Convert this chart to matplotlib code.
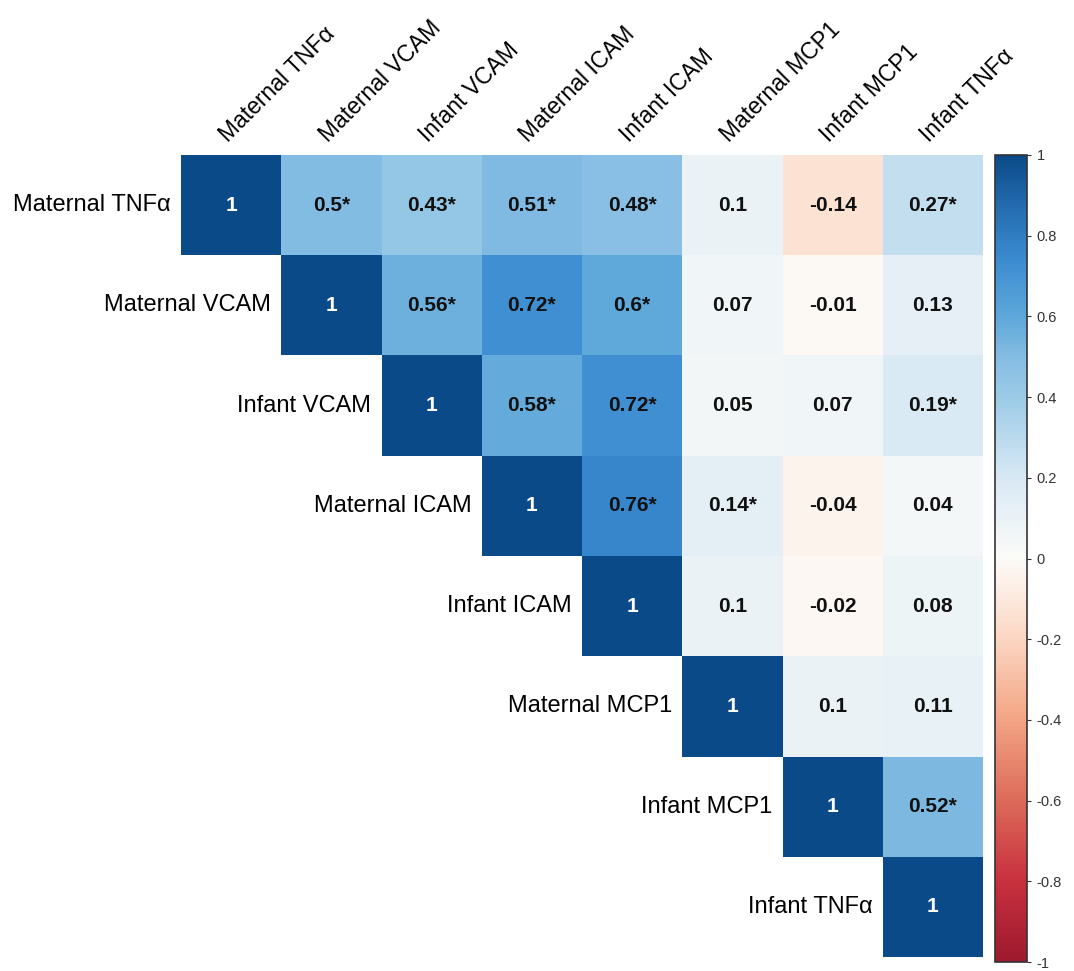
import numpy as np
import matplotlib
matplotlib.use("Agg")
import matplotlib.pyplot as plt
from matplotlib.colors import LinearSegmentedColormap

labels = ["Maternal TNFα", "Maternal VCAM", "Infant VCAM", "Maternal ICAM",
          "Infant ICAM", "Maternal MCP1", "Infant MCP1", "Infant TNFα"]

row0 = [1, 0.5, 0.43, 0.51, 0.48, 0.1, -0.14, 0.27]
row1 = [1, 0.56, 0.72, 0.6, 0.07, -0.01, 0.13]
row2 = [1, 0.58, 0.72, 0.05, 0.07, 0.19]
row3 = [1, 0.76, 0.14, -0.04, 0.04]
row4 = [1, 0.1, -0.02, 0.08]
row5 = [1, 0.1, 0.11]
row6 = [1, 0.52]
row7 = [1]

sig0 = [0, 1, 1, 1, 1, 0, 0, 1]
sig1 = [0, 1, 1, 1, 0, 0, 0]
sig2 = [0, 1, 1, 0, 0, 1]
sig3 = [0, 1, 1, 0, 0]
sig4 = [0, 0, 0, 0]
sig5 = [0, 0, 0]
sig6 = [0, 1]
sig7 = [0]

rows = [row0, row1, row2, row3, row4, row5, row6, row7]
sigs = [sig0, sig1, sig2, sig3, sig4, sig5, sig6, sig7]
cbar_ticks = [1, 0.8, 0.6, 0.4, 0.2, 0, -0.2, -0.4, -0.6, -0.8, -1]

FAM = ["Liberation Sans", "DejaVu Sans"]
LSZ, NSZ = 17, 15

# colour scale
stops = [(-1.0, "#9e1a2e"), (-0.8, "#c8313e"), (-0.6, "#dc6b5a"),
         (-0.4, "#f3a584"), (-0.2, "#fbd6c2"), (0.0, "#fcfbf8"),
         (0.2, "#d8e9f4"), (0.4, "#9ccbe6"), (0.5, "#85bde3"),
         (0.6, "#5ea8da"), (0.75, "#3a8ad0"), (0.9, "#1f66a8"),
         (1.0, "#0b4a88")]
cmap = LinearSegmentedColormap.from_list(
    "ref", [((v + 1) / 2, c) for v, c in stops], N=256)

n = len(labels)
M = np.full((n, n), np.nan)
S = np.zeros((n, n), dtype=bool)
for i in range(n):
    for k, v in enumerate(rows[i]):
        M[i, i + k] = v
        S[i, i + k] = bool(sigs[i][k])

W, H = 1074, 971
fig = plt.figure(figsize=(W / 100, H / 100), dpi=100)
ax = fig.add_axes([181 / W, (H - 957) / H, 802 / W, 802 / H])
mesh = ax.pcolormesh(np.arange(n + 1), np.arange(n + 1), np.ma.masked_invalid(M),
                     cmap=cmap, vmin=-1, vmax=1)
ax.set_xlim(0, n)
ax.set_ylim(n, 0)
ax.axis("off")

for i in range(n):
    for j in range(i, n):
        v = M[i, j]
        txt = ("%g" % v) + ("*" if S[i, j] else "")
        col = "white" if v >= 0.9 else "#111111"
        ax.text(j + 0.5, i + 0.5, txt, ha="center", va="center",
                fontsize=NSZ, fontweight="bold", color=col, family=FAM)
    ax.text(i - 0.1, i + 0.5, labels[i], ha="right", va="center",
            fontsize=LSZ, color="black", family=FAM)
    ax.text(i + 0.5, -0.08, labels[i], ha="left", va="bottom", rotation=45,
            rotation_mode="anchor", fontsize=LSZ - 0.5, color="black", family=FAM,
            clip_on=False)

cax = fig.add_axes([995 / W, (H - 962) / H, 32 / W, 807 / H])
cb = fig.colorbar(mesh, cax=cax, ticks=cbar_ticks)
cb.outline.set_edgecolor("#333333")
cb.outline.set_linewidth(1.2)
cb.ax.set_yticklabels(["%g" % t for t in cbar_ticks])
cb.ax.tick_params(length=3, width=0.8, colors="#333333", labelsize=10.5, pad=4)
for t in cb.ax.get_yticklabels():
    t.set_family(FAM)

fig.savefig("out.png", dpi=100, facecolor="white")
